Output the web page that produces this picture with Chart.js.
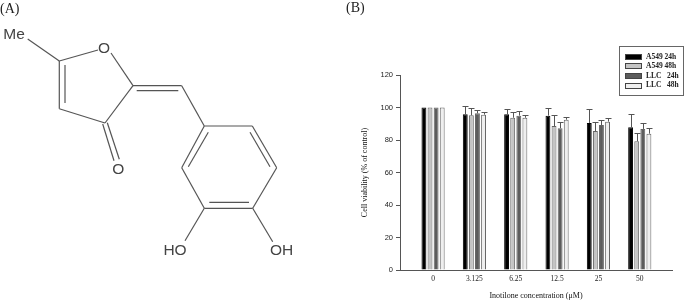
<!DOCTYPE html>
<html>
<head>
<meta charset="utf-8">
<script src="https://cdn.jsdelivr.net/npm/chart.js@4"></script>
<style>
  html, body { margin: 0; padding: 0; background: #fff; }
  #wrap { position: relative; width: 685px; height: 301px; overflow: hidden; background: #fff; filter: blur(0.6px); }
  #wrap canvas, #mol { position: absolute; left: 0; top: 0; }
  #mol line { stroke: #555; stroke-width: 1.2; }
  #mol .atom { font-family: "Liberation Sans", sans-serif; font-size: 15.5px; fill: #444; text-anchor: middle; }
  .panel { position: absolute; font-family: "Liberation Serif", serif; font-size: 14px; color: #222; line-height: 16px; }
</style>
</head>
<body>
<div id="wrap">
  <canvas id="grafico" width="685" height="301"></canvas>
  <svg id="mol" width="340" height="270">
    <line x1="27.7" y1="39" x2="59.3" y2="61"/>
    <line x1="59.3" y1="61" x2="98" y2="50"/>
    <line x1="111" y1="53" x2="133" y2="85.7"/>
    <line x1="133" y1="85.7" x2="105" y2="123"/>
    <line x1="105" y1="123" x2="59.3" y2="108.7"/>
    <line x1="59.3" y1="108.7" x2="59.3" y2="61"/>
    <line x1="65" y1="65" x2="65" y2="103"/>
    <line x1="133" y1="85.7" x2="181.7" y2="85.7"/>
    <line x1="136.7" y1="90.7" x2="178.3" y2="90.7"/>
    <line x1="181.7" y1="85.7" x2="204.3" y2="126"/>
    <line x1="204.3" y1="126" x2="252.3" y2="126"/>
    <line x1="252.3" y1="126" x2="276.7" y2="167.7"/>
    <line x1="276.7" y1="167.7" x2="252.7" y2="208.3"/>
    <line x1="252.7" y1="208.3" x2="204.3" y2="208.3"/>
    <line x1="204.3" y1="208.3" x2="181.7" y2="167.7"/>
    <line x1="181.7" y1="167.7" x2="204.3" y2="126"/>
    <line x1="208.3" y1="132.3" x2="188.3" y2="166.7"/>
    <line x1="250" y1="132.3" x2="270" y2="166.7"/>
    <line x1="209.3" y1="202.3" x2="249" y2="202.3"/>
    <line x1="102.7" y1="124" x2="114" y2="160.7"/>
    <line x1="107.3" y1="122.7" x2="119.3" y2="159.3"/>
    <line x1="204.3" y1="208.3" x2="185" y2="240.7"/>
    <line x1="252.7" y1="208.3" x2="272.7" y2="241.7"/>
    <text class="atom" x="14" y="39">Me</text>
    <text class="atom" x="104" y="52.5">O</text>
    <text class="atom" x="118.3" y="174">O</text>
    <text class="atom" x="175" y="255">HO</text>
    <text class="atom" x="281.7" y="255">OH</text>
  </svg>
  <div class="panel" style="left:0;top:1px">(A)</div>
  <div class="panel" style="left:346px;top:0">(B)</div>
</div>
<script>
// ========== DATOS ==========
const concentraciones = ['0', '3.125', '6.25', '12.5', '25', '50'];
const ticksY = [0, 20, 40, 60, 80, 100, 120];

const series = ['A549 24h', 'A549 48h', 'LLC   24h', 'LLC   48h'];
const colores = ['#000000', '#c4c4c4', '#5c5c5c', '#efefef'];

const a549_24 = [100, 95.8, 95.8, 95, 90.5, 87.8];
const a549_48 = [100, 95.2, 93.7, 88.6, 85.5, 79.2];
const llc_24 = [100, 96.4, 95, 87.2, 89.2, 86.8];
const llc_48 = [100, 95.6, 93.7, 92.5, 91.3, 83.9];

// extremo superior de las barras de error
const a549_24_sup = [100, 101, 99, 99.5, 99, 96];
const a549_48_sup = [100, 100, 97.4, 95.2, 91, 84.5];
const llc_24_sup = [100, 98.5, 97.8, 91, 92.3, 90.3];
const llc_48_sup = [100, 97.4, 95.2, 94, 93.5, 87.4];

const valores = [a549_24, a549_48, llc_24, llc_48];
const superiores = [a549_24_sup, a549_48_sup, llc_24_sup, llc_48_sup];

// ========== BARRAS DE ERROR ==========
const barrasError = {
  id: 'barrasError',
  afterDatasetsDraw(chart) {
    const ctx = chart.ctx;
    const y = chart.scales.y;
    ctx.save();
    ctx.strokeStyle = '#555';
    ctx.lineWidth = 1;
    superiores.forEach((sup, i) => {
      chart.getDatasetMeta(i).data.forEach((barra, j) => {
        if (sup[j] <= valores[i][j]) return;
        const top = Math.round(y.getPixelForValue(sup[j])) + 0.5;
        const x = Math.round(barra.x) + 0.5;
        ctx.beginPath();
        ctx.moveTo(x, barra.y);
        ctx.lineTo(x, top);
        ctx.moveTo(x - 3, top);
        ctx.lineTo(x + 3, top);
        ctx.stroke();
      });
    });
    ctx.restore();
  }
};

// ========== LEYENDA ==========
const leyendaCaja = {
  id: 'leyendaCaja',
  afterDraw(chart) {
    const ctx = chart.ctx;
    ctx.save();
    ctx.strokeStyle = '#666';
    ctx.lineWidth = 1;
    ctx.strokeRect(619.5, 46.5, 64, 49);
    ctx.font = 'bold 7.5px "Liberation Serif"';
    ctx.textBaseline = 'middle';
    series.forEach((nombre, i) => {
      const fila = 56.7 + i * 9.6;
      ctx.fillStyle = colores[i];
      ctx.strokeStyle = '#444';
      ctx.fillRect(625, Math.round(fila) - 3, 17, 6);
      ctx.strokeRect(625.5, Math.round(fila) - 2.5, 16, 5);
      ctx.fillStyle = '#222';
      ctx.fillText(nombre, 646, fila);
    });
    ctx.restore();
  }
};

// ========== GRAFICO ==========
new Chart(document.getElementById('grafico'), {
  type: 'bar',
  data: {
    datasets: series.map((nombre, i) => ({
      label: nombre,
      data: valores[i].map((v, j) => ({ x: j, y: v })),
      backgroundColor: colores[i],
      borderColor: i === 0 ? '#000' : '#666',
      borderWidth: 1,
      barPercentage: 0.8,
      categoryPercentage: 0.59
    }))
  },
  options: {
    responsive: false,
    animation: false,
    layout: { padding: { left: 360, right: 13, top: 75, bottom: 0 } },
    plugins: { legend: { display: false }, tooltip: { enabled: false } },
    scales: {
      x: {
        type: 'linear',
        offset: false,
        min: -0.8,
        max: 5.78,
        afterFit: s => { s.height = 31; },
        grid: { display: false, drawTicks: false },
        border: { color: '#555', width: 1 },
        ticks: {
          stepSize: 1,
          includeBounds: false,
          maxRotation: 0,
          padding: 5,
          color: '#222',
          font: { family: 'Liberation Serif', size: 7.5 },
          callback: v => concentraciones[v]
        },
        title: {
          display: true,
          text: 'Inotilone concentration (μM)',
          color: '#111',
          padding: { top: 6, bottom: 0 },
          font: { family: 'Liberation Serif', size: 8 }
        }
      },
      y: {
        min: 0,
        max: 120,
        afterFit: s => { s.width = 40; },
        afterBuildTicks: s => { s.ticks = ticksY.map(v => ({ value: v })); },
        grid: { drawOnChartArea: false, tickLength: 4, color: '#555' },
        border: { color: '#555', width: 1 },
        ticks: {
          padding: 3,
          color: '#222',
          font: { family: 'Liberation Sans', size: 7.5 }
        },
        title: {
          display: true,
          text: 'Cell viability (% of control)',
          color: '#111',
          padding: { top: 0, bottom: 8 },
          font: { family: 'Liberation Serif', size: 8 }
        }
      }
    }
  },
  plugins: [barrasError, leyendaCaja]
});
</script>
</body>
</html>
